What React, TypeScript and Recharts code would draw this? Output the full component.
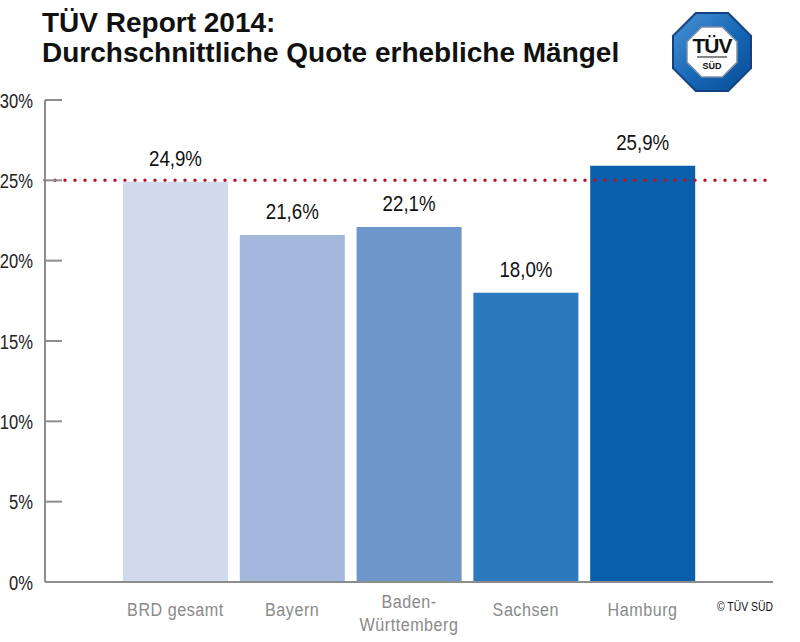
import * as React from "react";
import {
  Bar,
  BarChart,
  Cell,
  LabelList,
  ReferenceLine,
  XAxis,
  YAxis,
} from "recharts";

// TÜV Report 2014 – average share of vehicles with major defects,
// per federal state, with the national average as a dotted red line.

const CATEGORIES = ["BRD gesamt", "Bayern", "Baden-Württemberg", "Sachsen", "Hamburg"];
const VALUES = [24.9, 21.6, 22.1, 18.0, 25.9];
const Y_TICKS = [0, 5, 10, 15, 20, 25, 30];
const REFERENCE_VALUE = 25;

const BAR_COLORS = ["#d2dbee", "#a3b8dc", "#6d96cb", "#2c79bd", "#0a5fab"];

// no condensed face installed, so squeeze Liberation Sans horizontally
const SANS = "'Liberation Sans', Arial, sans-serif";
const AXIS_GREY = "#8d8d8d";

if (typeof document !== "undefined") document.body.style.margin = "0";

const rows = CATEGORIES.map((name, i) => ({ name, value: VALUES[i] }));

function formatPercent(v: number): string {
  return `${v.toFixed(1).replace(".", ",")}%`;
}

function YTick(props: any) {
  const { x, y, payload } = props;
  return (
    <g>
      {payload.value !== 0 && (
        <line x1={x + 12} x2={x + 29} y1={y} y2={y} stroke={AXIS_GREY} strokeWidth={2} />
      )}
      <text
        transform={`translate(${x},${y}) scale(0.79,1)`}
        dy={7.5}
        textAnchor="end"
        fontFamily={SANS}
        fontSize={21}
        fill="#222"
      >
        {`${payload.value}%`}
      </text>
    </g>
  );
}

function XTick(props: any) {
  const { x, y, payload } = props;
  const label = String(payload.value);
  const cut = label.indexOf("-");
  const lines = cut >= 0 ? [label.slice(0, cut + 1), label.slice(cut + 1)] : [label];
  const startDy = lines.length > 1 ? 20 : 28;
  return (
    <text
      transform={`translate(${x},${y}) scale(0.85,1)`}
      textAnchor="middle"
      fontFamily={SANS}
      fontSize={19}
      letterSpacing={0.6}
      fill="#8a8a8a"
    >
      {lines.map((l, i) => (
        <tspan key={i} x={0} dy={i === 0 ? startDy : 23}>
          {l}
        </tspan>
      ))}
    </text>
  );
}

function BarValueLabel(props: any) {
  const { x, y, width, value } = props;
  return (
    <text
      transform={`translate(${x + width / 2},${y - 16}) scale(0.85,1)`}
      textAnchor="middle"
      fontFamily={SANS}
      fontSize={22}
      fill="#111"
    >
      {formatPercent(Number(value))}
    </text>
  );
}

function octagon(cx: number, cy: number, r: number): string {
  const b = r * Math.tan(Math.PI / 8);
  const pts = [
    [cx - b, cy - r],
    [cx + b, cy - r],
    [cx + r, cy - b],
    [cx + r, cy + b],
    [cx + b, cy + r],
    [cx - b, cy + r],
    [cx - r, cy + b],
    [cx - r, cy - b],
  ];
  return pts.map((p) => p.join(",")).join(" ");
}

function Logo() {
  return (
    <svg width={90} height={90} style={{ position: "absolute", left: 667, top: 7 }}>
      <defs>
        <linearGradient id="tuvBlue" x1="0" y1="0" x2="1" y2="1">
          <stop offset="0%" stopColor="#4a93d6" />
          <stop offset="55%" stopColor="#1466b4" />
          <stop offset="100%" stopColor="#0b4d98" />
        </linearGradient>
      </defs>
      <polygon points={octagon(45, 45, 40)} fill="#163f80" />
      <polygon points={octagon(45, 45, 38)} fill="url(#tuvBlue)" />
      <polygon points={octagon(45, 45, 25)} fill="#fff" stroke="#7c8fa8" strokeWidth={1.5} />
      <text
        x={45}
        y={46}
        textAnchor="middle"
        fontFamily={SANS}
        fontWeight="bold"
        fontSize={21}
        letterSpacing={-1}
        fill="#111"
      >
        TÜV
      </text>
      <line x1={30} x2={60} y1={50} y2={50} stroke="#111" strokeWidth={1} />
      <text
        x={45}
        y={62}
        textAnchor="middle"
        fontFamily={SANS}
        fontWeight="bold"
        fontSize={9}
        fill="#111"
      >
        SÜD
      </text>
    </svg>
  );
}

export default function App() {
  return (
    <div style={{ position: "relative", width: 800, height: 642, background: "#fff" }}>
      <div
        style={{
          position: "absolute",
          left: 42,
          top: 8,
          fontFamily: SANS,
          fontWeight: "bold",
          fontSize: 28,
          lineHeight: "30px",
          color: "#111",
        }}
      >
        <div>TÜV Report 2014:</div>
        <div>Durchschnittliche Quote erhebliche Mängel</div>
      </div>
      <Logo />
      <BarChart
        width={800}
        height={642}
        data={rows}
        margin={{ top: 100, right: 27, bottom: 10, left: 0 }}
        style={{ position: "absolute", left: 0, top: 0 }}
      >
        <YAxis
          domain={[0, 30]}
          ticks={Y_TICKS}
          interval={0}
          width={45}
          tickSize={0}
          tickMargin={12}
          axisLine={{ stroke: AXIS_GREY, strokeWidth: 2 }}
          tick={<YTick />}
        />
        <XAxis
          dataKey="name"
          height={50}
          padding={{ left: 72, right: 72 }}
          tickLine={false}
          tickMargin={0}
          axisLine={{ stroke: AXIS_GREY, strokeWidth: 2 }}
          interval={0}
          tick={<XTick />}
        />
        <Bar dataKey="value" barSize={105} isAnimationActive={false}>
          {rows.map((r, i) => (
            <Cell key={r.name} fill={BAR_COLORS[i]} />
          ))}
          <LabelList dataKey="value" content={<BarValueLabel />} />
        </Bar>
        <ReferenceLine
          y={REFERENCE_VALUE}
          stroke="#b3172c"
          strokeWidth={3.5}
          strokeDasharray="0 10"
          strokeLinecap="round"
        />
      </BarChart>
      <div
        style={{
          position: "absolute",
          left: 717,
          top: 599,
          fontFamily: SANS,
          fontSize: 13,
          color: "#111",
          transform: "scaleX(0.8)",
          transformOrigin: "left top",
          whiteSpace: "nowrap",
        }}
      >
        © TÜV SÜD
      </div>
    </div>
  );
}
